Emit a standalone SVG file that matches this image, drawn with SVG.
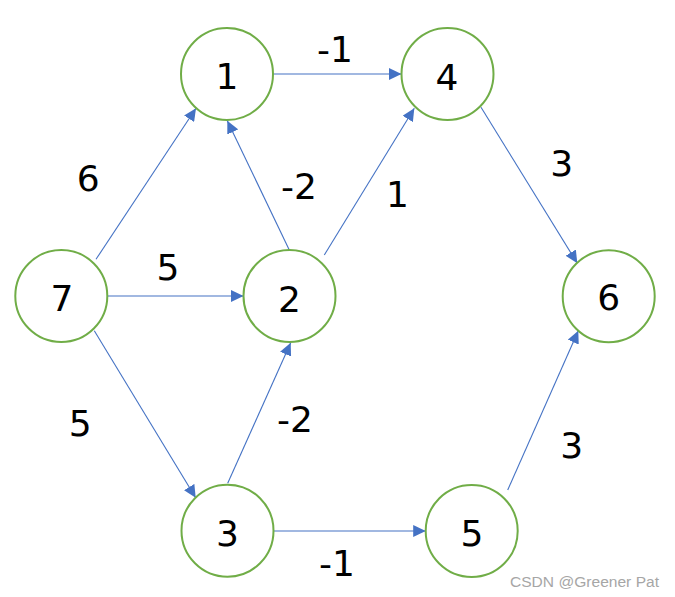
<svg xmlns="http://www.w3.org/2000/svg" width="675" height="597" viewBox="0 0 675 597">
<style>
.node circle{fill:#fff;stroke:#70AD47;stroke-width:2}
.lbl{font-family:"DejaVu Sans",sans-serif;font-size:36px;fill:#000;text-anchor:middle}
.edge{stroke:#4472C4;stroke-width:1.1;fill:none;marker-end:url(#arr)}
.wm{font-family:"Liberation Sans",Arial,sans-serif;font-size:15.5px;fill:#A6A6A6}
</style>
<defs>
<marker id="arr" markerUnits="userSpaceOnUse" markerWidth="13" markerHeight="12" refX="12.5" refY="6" orient="auto">
<path d="M0,0 L12.5,6 L0,12 Z" fill="#4472C4"/>
</marker>
</defs>
<rect width="675" height="597" fill="#fff"/>
<g id="connectors">
<line class="edge" x1="273" y1="74" x2="401.5" y2="74"/>
<line class="edge" x1="107" y1="296" x2="243.5" y2="296"/>
<line class="edge" x1="273.5" y1="531" x2="425.7" y2="531"/>
<line class="edge" x1="96" y1="259.3" x2="196" y2="108.3"/>
<line class="edge" x1="289.3" y1="250" x2="227.3" y2="120.7"/>
<line class="edge" x1="324.3" y1="255" x2="414.3" y2="108.3"/>
<line class="edge" x1="94.3" y1="330.7" x2="195.7" y2="497.7"/>
<line class="edge" x1="227.7" y1="483.3" x2="290.7" y2="342.7"/>
<line class="edge" x1="481" y1="107.3" x2="577.3" y2="263.3"/>
<line class="edge" x1="507.7" y1="490" x2="578.3" y2="330.7"/>
</g>
<g id="edge-labels">
<text class="lbl" x="335" y="61.5">-1</text>
<text class="lbl" x="168" y="280">5</text>
<text class="lbl" x="337" y="576">-1</text>
<text class="lbl" x="88.3" y="191">6</text>
<text class="lbl" x="299" y="199.3">-2</text>
<text class="lbl" x="397.5" y="207.3">1</text>
<text class="lbl" x="80.3" y="436">5</text>
<text class="lbl" x="295" y="431.7">-2</text>
<text class="lbl" x="561.7" y="176">3</text>
<text class="lbl" x="571.7" y="458.3">3</text>
</g>
<g id="node1" class="node"><circle cx="227" cy="74" r="46"/><text class="lbl" x="227" y="89">1</text></g>
<g id="node4" class="node"><circle cx="447.5" cy="74" r="46"/><text class="lbl" x="447" y="90">4</text></g>
<g id="node7" class="node"><circle cx="61.3" cy="296" r="46"/><text class="lbl" x="62" y="311">7</text></g>
<g id="node2" class="node"><circle cx="289.5" cy="296" r="46"/><text class="lbl" x="289.5" y="311.5">2</text></g>
<g id="node6" class="node"><circle cx="608.7" cy="296.3" r="46"/><text class="lbl" x="608.7" y="310">6</text></g>
<g id="node3" class="node"><circle cx="227.5" cy="530.7" r="46"/><text class="lbl" x="227.5" y="546">3</text></g>
<g id="node5" class="node"><circle cx="471.7" cy="531" r="46"/><text class="lbl" x="472" y="546">5</text></g>
<text class="wm" x="510" y="586.5" textLength="149" lengthAdjust="spacingAndGlyphs">CSDN @Greener Pat</text>
</svg>
